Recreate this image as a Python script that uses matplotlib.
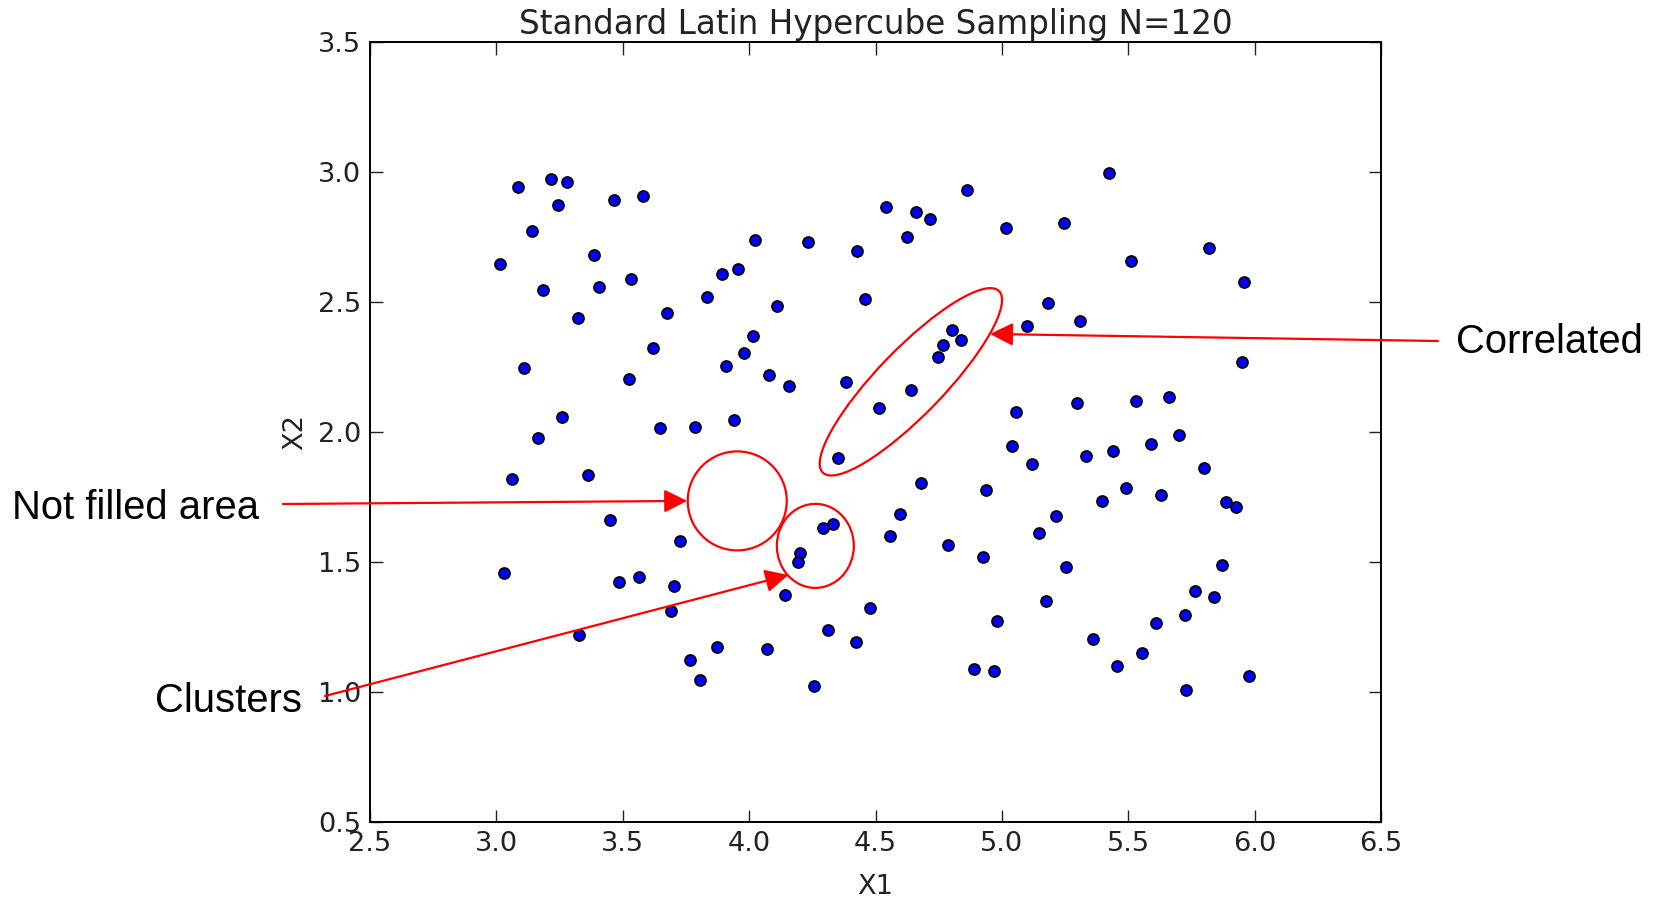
import matplotlib
matplotlib.use('Agg')
import matplotlib.pyplot as plt
from matplotlib.patches import Ellipse
from matplotlib.transforms import ScaledTranslation

# muestras LHS (N=120)
x1 = [3.087, 3.215, 3.281, 3.244, 3.464, 3.580, 3.142, 3.016, 3.388, 3.183,
      3.405, 3.531, 3.322, 4.025, 4.231, 4.428, 3.893, 3.955, 3.832, 4.110,
      4.460, 3.676, 4.014, 3.980, 3.620, 3.907, 4.080, 4.159, 4.382, 3.109,
      3.523, 4.513, 3.261, 3.647, 3.787, 3.939, 3.165,
      5.423, 4.861, 4.540, 4.660, 4.716, 4.625, 5.018, 5.245, 5.818, 5.511,
      5.957, 5.183, 5.099, 5.310, 4.803, 4.840, 4.766, 4.746, 5.950, 4.642,
      5.057, 5.299, 5.531, 5.660,
      3.062, 3.364, 4.353, 3.448, 4.291, 4.331, 3.727, 4.201, 4.195, 3.031,
      3.487, 3.566, 3.703, 4.142, 4.479, 3.691, 3.328, 4.312, 4.422, 3.872,
      4.070, 3.767, 3.804, 4.255,
      5.701, 5.040, 5.119, 5.333, 5.438, 5.589, 5.801, 4.679, 4.939, 5.397,
      5.491, 5.629, 5.888, 5.925, 4.598, 5.213, 5.147, 4.559, 4.786, 4.925,
      5.255, 5.872, 5.764, 5.838, 5.723, 5.609, 5.175, 4.982, 5.362, 5.553,
      5.454, 4.888, 4.969, 5.730, 5.979]
x2 = [2.941, 2.972, 2.963, 2.874, 2.893, 2.906, 2.773, 2.645, 2.680, 2.545,
      2.557, 2.587, 2.437, 2.738, 2.731, 2.696, 2.607, 2.626, 2.518, 2.483,
      2.512, 2.457, 2.370, 2.305, 2.323, 2.255, 2.219, 2.178, 2.191, 2.246,
      2.203, 2.092, 2.059, 2.017, 2.020, 2.046, 1.976,
      2.996, 2.930, 2.865, 2.846, 2.818, 2.751, 2.783, 2.803, 2.708, 2.658,
      2.578, 2.495, 2.409, 2.426, 2.391, 2.353, 2.336, 2.290, 2.270, 2.162,
      2.076, 2.113, 2.119, 2.133,
      1.820, 1.836, 1.899, 1.660, 1.632, 1.647, 1.581, 1.536, 1.500, 1.458,
      1.423, 1.442, 1.407, 1.372, 1.322, 1.313, 1.219, 1.238, 1.192, 1.172,
      1.164, 1.122, 1.046, 1.024,
      1.990, 1.945, 1.878, 1.909, 1.928, 1.955, 1.862, 1.803, 1.776, 1.735,
      1.783, 1.758, 1.731, 1.713, 1.685, 1.676, 1.610, 1.600, 1.564, 1.520,
      1.482, 1.490, 1.387, 1.367, 1.295, 1.265, 1.349, 1.273, 1.205, 1.151,
      1.101, 1.088, 1.080, 1.007, 1.060]

titulo = 'Standard Latin Hypercube Sampling N=120'
xticks = [2.5, 3.0, 3.5, 4.0, 4.5, 5.0, 5.5, 6.0, 6.5]
yticks = [0.5, 1.0, 1.5, 2.0, 2.5, 3.0, 3.5]

W, H = 1658, 900
fig = plt.figure(figsize=(W / 100, H / 100), dpi=100)
ax = fig.add_axes([370 / W, 78 / H, 1011 / W, 780 / H])

ax.scatter(x1, x2, s=62, c='#0000ff', edgecolors='black', linewidths=1.3, zorder=3)
ax.set_xlim(2.5, 6.5)
ax.set_ylim(0.5, 3.5)
ax.set_xticks(xticks)
ax.set_yticks(yticks)
ax.tick_params(direction='in', length=9, width=1, top=True, right=True,
               labelsize=19.6, pad=6.5, colors='#222222')
for s in ax.spines.values():
    s.set_linewidth(1.4)
ax.set_title(titulo, fontsize=23.5, pad=6, color='#222222')
ax.set_xlabel('X1', fontsize=19.6, labelpad=12, color='#222222')
ax.set_ylabel('X2', fontsize=19.6, labelpad=7, color='#222222')

# anotaciones en rojo
def elipse(cx, cy, w_px, h_px, ang):
    tr = fig.dpi_scale_trans + ScaledTranslation(cx, cy, ax.transData)
    e = Ellipse((0, 0), w_px / 100, h_px / 100, angle=ang, transform=tr,
                fill=False, edgecolor='red', lw=1.6, zorder=4, clip_on=False)
    ax.add_patch(e)

elipse(4.640, 2.193, 253, 66, 45.9)   # correlated
elipse(3.953, 1.735, 99, 99, 0)       # not filled area
elipse(4.262, 1.562, 77, 84, 0)       # clusters

flecha = dict(arrowstyle='-|>,head_length=0.7,head_width=0.35', color='red',
              lw=1.6, shrinkA=0, shrinkB=0, mutation_scale=20)
ax.annotate('', xy=(4.953, 2.377), xycoords='data', xytext=(1438, 559),
            textcoords='figure pixels', arrowprops=flecha, annotation_clip=False)
ax.annotate('', xy=(3.755, 1.735), xycoords='data', xytext=(283, 396),
            textcoords='figure pixels', arrowprops=flecha, annotation_clip=False)
ax.annotate('', xy=(4.155, 1.450), xycoords='data', xytext=(325, 204),
            textcoords='figure pixels', arrowprops=flecha, annotation_clip=False)

fuente = dict(fontsize=28.8, family='Liberation Sans', color='black', va='baseline')
fig.text(1456 / W, 1 - 353 / H, 'Correlated', ha='left', **fuente)
fig.text(12 / W, 1 - 519 / H, 'Not filled area', ha='left', **fuente)
fig.text(302 / W, 1 - 712 / H, 'Clusters', ha='right', **fuente)

plt.savefig('out.png', dpi=100)
plt.close(fig)
